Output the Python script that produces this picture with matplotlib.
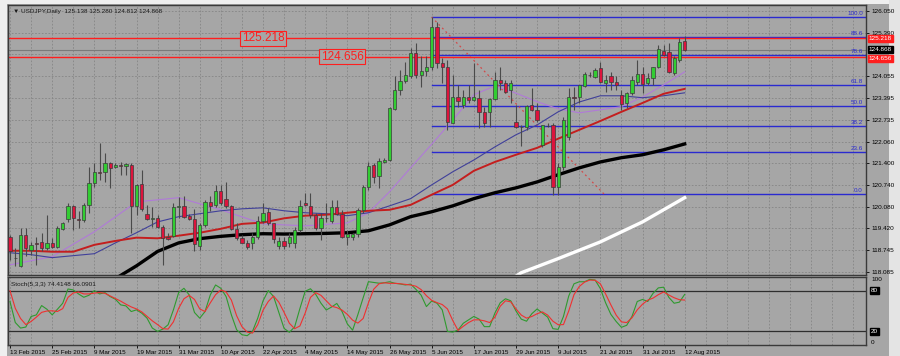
import numpy as np
import matplotlib.pyplot as plt
import matplotlib.transforms as mtransforms
from matplotlib.patches import Rectangle

plt.rcParams['font.family'] = ['Liberation Sans', 'DejaVu Sans']

# ---- daily USDJPY candles, 13 Feb 2015 .. 12 Aug 2015
opens = [119.16, 118.52, 118.25, 119.22, 118.76, 118.96, 119.01, 118.81, 118.96, 118.84,
         119.39, 119.69, 120.10, 119.70, 119.68, 120.13, 120.81, 121.12, 121.12, 121.42,
         121.28, 121.35, 121.32, 121.35, 120.10, 120.76, 119.85, 119.70, 119.73, 119.45,
         119.15, 119.19, 120.06, 120.10, 119.78, 119.70, 118.88, 119.52, 120.23, 120.13,
         120.54, 120.31, 120.10, 119.39, 119.12, 118.98, 118.98, 119.15, 119.65, 119.90,
         119.57, 118.88, 119.04, 118.98, 118.96, 119.37, 120.18, 120.10, 119.83, 119.42,
         119.73, 119.65, 120.06, 119.86, 119.15, 119.15, 119.25, 119.98, 120.67, 121.35,
         121.02, 121.45, 121.50, 123.05, 123.64, 123.92, 124.05, 124.76, 124.10, 124.23,
         124.33, 125.57, 124.47, 124.33, 122.62, 123.42, 123.18, 123.42, 123.33, 123.39,
         122.95, 122.95, 123.36, 123.94, 123.84, 123.64, 122.67, 122.52, 122.50, 123.18,
         123.03, 121.96, 122.55, 122.57, 120.69, 121.30, 122.20, 123.42, 123.42, 123.76,
         124.10, 124.03, 124.30, 123.86, 124.05, 123.89, 123.49, 123.23, 123.54, 123.89,
         124.13, 123.86, 124.00, 124.35, 124.84, 124.81, 124.15, 124.55, 125.138]
highs = [119.22, 118.82, 119.42, 119.42, 119.01, 119.16, 119.27, 119.83, 119.12, 119.49,
         119.62, 120.20, 120.13, 119.93, 120.18, 121.30, 121.40, 122.01, 121.71, 121.45,
         121.40, 121.45, 121.42, 121.40, 120.77, 121.20, 120.13, 120.08, 119.83, 119.52,
         119.27, 120.20, 120.37, 120.39, 119.86, 120.00, 119.57, 120.28, 120.39, 120.74,
         120.74, 120.82, 120.13, 119.57, 119.22, 119.07, 119.27, 119.78, 120.18, 120.03,
         119.59, 119.15, 119.15, 119.27, 119.47, 120.28, 120.49, 120.49, 119.89, 119.89,
         120.18, 120.28, 120.28, 119.98, 119.37, 119.28, 120.04, 120.74, 121.45, 121.40,
         121.56, 121.56, 123.13, 124.05, 124.25, 124.50, 124.91, 125.06, 124.66, 124.66,
         125.86, 125.71, 124.62, 124.55, 124.10, 123.79, 123.64, 123.79, 124.45, 123.64,
         123.12, 123.40, 124.20, 124.35, 123.94, 123.94, 123.18, 122.57, 123.18, 123.69,
         123.23, 122.57, 122.63, 122.62, 121.40, 122.80, 123.70, 123.72, 123.79, 124.19,
         124.20, 124.30, 124.50, 124.10, 124.19, 124.05, 123.64, 123.59, 124.05, 124.55,
         124.35, 124.15, 124.35, 125.01, 125.01, 125.06, 124.66, 125.22, 125.280]
lows = [118.46, 118.25, 118.22, 118.56, 118.61, 118.30, 118.71, 118.76, 118.81, 118.81,
        119.37, 119.62, 119.37, 119.42, 119.62, 119.88, 120.69, 120.89, 120.84, 120.64,
        121.25, 121.05, 121.05, 119.27, 119.83, 119.93, 119.68, 119.47, 119.42, 118.30,
        119.07, 119.15, 119.73, 119.73, 119.68, 118.71, 118.76, 119.47, 119.93, 120.08,
        120.13, 120.03, 119.37, 119.07, 118.96, 118.78, 118.78, 119.09, 119.59, 119.52,
        118.96, 118.78, 118.78, 118.84, 118.81, 119.31, 120.11, 119.73, 119.37, 119.07,
        119.62, 119.59, 119.83, 119.12, 118.91, 119.07, 119.16, 119.88, 120.59, 120.79,
        120.64, 121.41, 121.47, 123.03, 123.49, 123.84, 124.00, 124.00, 123.74, 124.05,
        124.25, 124.31, 123.84, 122.42, 122.62, 123.13, 123.08, 123.23, 123.30, 122.47,
        122.52, 122.52, 123.33, 123.64, 123.54, 123.23, 122.47, 121.93, 122.42, 122.98,
        122.67, 121.91, 122.51, 120.44, 120.44, 121.20, 122.12, 123.03, 123.23, 123.74,
        124.03, 124.00, 123.84, 123.58, 123.64, 123.64, 123.03, 123.09, 123.49, 123.79,
        123.54, 123.79, 123.79, 124.30, 124.66, 124.15, 124.10, 124.50, 124.812]
closes = [118.73, 118.50, 119.22, 118.81, 118.91, 118.94, 118.81, 118.96, 118.84, 119.42,
          119.57, 120.10, 119.73, 119.66, 120.13, 120.81, 121.12, 121.10, 121.42, 121.27,
          121.35, 121.33, 121.37, 120.10, 120.74, 120.00, 119.70, 119.74, 119.47, 119.12,
          119.10, 120.06, 120.10, 119.76, 119.70, 118.94, 119.52, 120.23, 120.10, 120.54,
          120.18, 120.10, 119.39, 119.12, 118.98, 118.84, 119.15, 119.65, 119.88, 119.57,
          119.09, 119.04, 118.88, 119.15, 119.37, 120.10, 120.13, 119.83, 119.42, 119.73,
          119.72, 120.06, 119.86, 119.15, 119.25, 119.25, 119.98, 120.67, 121.32, 120.99,
          121.48, 121.50, 123.08, 123.64, 123.92, 124.10, 124.76, 124.10, 124.23, 124.35,
          125.57, 124.47, 124.33, 122.67, 123.42, 123.31, 123.42, 123.33, 123.42, 122.95,
          122.64, 123.36, 123.94, 123.84, 123.59, 123.84, 122.52, 122.50, 123.15, 123.03,
          122.73, 122.57, 122.53, 120.69, 121.30, 122.73, 123.42, 123.40, 123.79, 124.13,
          124.08, 124.25, 123.89, 123.94, 123.89, 123.79, 123.21, 123.54, 123.94, 124.13,
          123.82, 124.00, 124.33, 124.88, 124.71, 124.20, 124.60, 125.11, 124.868]

# ---- moving averages, values read at selected bars
violet_idx = [0, 8, 16, 24, 32, 40, 48, 56, 64, 68, 72, 76, 80, 84, 88, 92, 96, 100,
              104, 108, 112, 116, 120, 124, 128]
violet_ma = [118.30, 118.55, 119.31, 120.22, 120.35, 119.98, 119.55, 119.49, 119.58, 119.89,
             120.53, 121.26, 121.98, 122.72, 123.49, 123.76, 123.54, 123.28, 123.06, 122.94,
             123.03, 123.13, 123.42, 123.79, 124.19]
ma_idx = [0, 4, 8, 12, 16, 20, 24, 28, 32, 36, 40, 44, 48, 52, 56, 60, 64, 68, 72, 76,
          80, 84, 88, 92, 96, 100, 104, 108, 112, 116, 120, 124, 128]
blue_ma = [118.67, 118.61, 118.52, 118.58, 118.64, 118.97, 119.28, 119.61, 119.77, 119.86,
           119.95, 120.01, 120.04, 119.95, 119.89, 119.86, 119.80, 119.89, 120.10, 120.32,
           120.74, 121.14, 121.50, 121.90, 122.27, 122.57, 122.97, 123.27, 123.46, 123.46,
           123.40, 123.46, 123.55]
red_ma = [118.73, 118.73, 118.70, 118.70, 118.91, 119.03, 119.13, 119.11, 119.19, 119.28,
          119.40, 119.55, 119.59, 119.72, 119.80, 119.83, 119.89, 119.95, 119.98, 120.13,
          120.44, 120.74, 121.17, 121.44, 121.66, 121.87, 122.15, 122.42, 122.69, 122.97,
          123.24, 123.52, 123.67]
black_idx = [16, 20, 24, 28, 32, 36, 40, 44, 48, 52, 56, 60, 64, 68, 72, 76, 80, 84, 88,
             92, 96, 100, 104, 108, 112, 116, 120, 124, 128]
black_ma = [117.60, 117.88, 118.27, 118.71, 118.97, 119.10, 119.17, 119.22, 119.25, 119.24,
            119.25, 119.26, 119.28, 119.34, 119.52, 119.77, 119.92, 120.10, 120.32, 120.50,
            120.65, 120.83, 121.05, 121.26, 121.44, 121.57, 121.66, 121.81, 121.99]
white_idx = [95, 97, 104, 112, 120, 128]
white_ma = [117.85, 118.06, 118.49, 119.00, 119.61, 120.35]

# ---- Stochastic(5,3,3)
stoch_main = [63.9, 33.1, 24.9, 26.4, 41.9, 44.3, 58.0, 52.6, 44.3, 52.6,
              61.4, 82.4, 81.0, 75.1, 70.2, 73.2, 80.0, 75.1, 77.1, 71.2,
              67.3, 59.0, 57.5, 49.2, 51.7, 46.8, 39.4, 24.9, 20.0, 23.4,
              29.8, 51.7, 77.1, 83.4, 73.7, 47.8, 39.4, 49.2, 73.7, 88.3,
              83.4, 71.2, 44.3, 22.4, 15.1, 13.7, 20.0, 39.4, 64.8, 80.0,
              71.4, 47.8, 24.4, 18.7, 26.6, 53.6, 79.0, 82.7, 74.5, 61.4,
              51.5, 55.8, 61.1, 49.2, 31.0, 21.8, 44.8, 69.4, 93.1, 92.0,
              90.9, 91.5, 93.0, 90.8, 89.8, 88.3, 89.5, 82.0, 73.2, 56.5,
              64.7, 61.5, 51.7, 20.0, 19.0, 22.0, 32.0, 37.0, 42.0, 38.0,
              27.0, 27.0, 47.0, 62.0, 68.0, 65.0, 50.0, 38.0, 35.0, 46.0,
              53.0, 47.0, 41.0, 24.0, 23.0, 42.0, 72.0, 90.0, 93.0, 93.0,
              96.5, 95.6, 83.0, 62.0, 45.0, 34.6, 26.0, 29.0, 42.0, 64.0,
              67.0, 64.0, 76.0, 84.0, 85.0, 70.0, 61.4, 63.0, 74.41]
stoch_signal = [80.0, 54.0, 39.0, 30.0, 34.6, 41.0, 48.0, 50.0, 50.3, 49.3,
                53.5, 70.0, 76.5, 78.0, 75.1, 75.1, 76.3, 77.1, 76.0, 72.2,
                68.5, 64.5, 60.0, 56.0, 53.0, 48.7, 42.0, 35.5, 30.0, 24.0,
                23.4, 34.0, 54.0, 68.0, 73.0, 67.0, 53.0, 49.2, 62.0, 74.0,
                81.0, 78.0, 66.0, 43.0, 27.0, 19.0, 17.5, 30.0, 51.0, 64.0,
                72.0, 63.0, 48.0, 32.0, 24.0, 28.0, 47.0, 70.0, 77.0, 73.0,
                65.0, 57.0, 55.0, 51.3, 45.0, 36.5, 32.2, 39.0, 62.0, 82.0,
                90.0, 91.5, 90.7, 90.7, 90.1, 89.2, 88.2, 86.5, 81.5, 72.5,
                65.7, 62.3, 59.5, 53.0, 36.0, 21.5, 27.5, 33.0, 37.0, 37.0,
                35.5, 33.0, 41.0, 57.0, 65.0, 63.5, 53.0, 44.0, 39.5, 41.9,
                46.0, 48.7, 44.0, 35.0, 29.8, 30.0, 50.0, 74.0, 86.0, 92.5,
                95.5, 95.2, 90.0, 75.0, 59.0, 44.0, 34.0, 33.0, 40.0, 51.7,
                60.0, 66.0, 69.0, 74.0, 78.0, 73.5, 69.5, 66.6, 66.09]

date_labels = ['13 Feb 2015', '25 Feb 2015', '9 Mar 2015', '19 Mar 2015', '31 Mar 2015',
               '10 Apr 2015', '22 Apr 2015', '4 May 2015', '14 May 2015', '26 May 2015',
               '5 Jun 2015', '17 Jun 2015', '29 Jun 2015', '9 Jul 2015', '21 Jul 2015',
               '31 Jul 2015', '12 Aug 2015']
price_ticks = [118.085, 118.745, 119.420, 120.080, 120.740, 121.400, 122.060, 122.735,
               123.395, 124.055, 124.720, 125.390, 126.050]

# fibonacci retracement object and horizontal lines
fib_levels = [0.0, 23.6, 38.2, 50.0, 61.8, 78.6, 88.6, 100.0]
fib_low, fib_high = 120.46, 125.86
fib_start, fib_end = 80, 112.7
hlines = [125.218, 124.656]
bid = 124.868

BG = '#a6a6a6'
GRID = '#858585'
GREEN = '#32cd32'
RED = '#dc143c'
EDGE = '#3c3c3c'
FIBC = '#2a2ad0'

fig = plt.figure(figsize=(9, 3.56), dpi=100, facecolor=BG)
ax = fig.add_axes([8/900, 1-275/356, 858/900, 270/356], facecolor=BG)
ax2 = fig.add_axes([8/900, 1-345/356, 858/900, 68/356], facecolor=BG)

xmin, xmax = -0.38, 162.4
for a in (ax, ax2):
    a.set_xlim(xmin, xmax)
    for s in a.spines.values():
        s.set_color('#3a3a3a')
        s.set_linewidth(1.0)
    for g in range(0, 164, 4):
        a.axvline(g, color=GRID, lw=0.6, ls=(0, (2, 2)), zorder=0.5)
ax.set_ylim(117.99, 126.23)
ax2.set_ylim(0, 100)

for p in price_ticks:
    ax.axhline(p, color=GRID, lw=0.6, ls=(0, (2, 2)), zorder=0.5)

# fib
for lv in fib_levels:
    pr = fib_low + (fib_high - fib_low) * lv / 100
    ax.plot([fib_start, xmax], [pr, pr], color=FIBC, lw=1.0, zorder=1.5)
    ax.text(xmax - 0.6, pr + 0.03, f'{lv:.1f}', color=FIBC, fontsize=4.5,
            ha='right', va='bottom', zorder=6)
ax.plot([fib_start, fib_end], [fib_high, fib_low], color='#d24a4a', lw=0.9,
        ls=(0, (1.5, 2.5)), zorder=1.6)

# horizontal lines
ax.axhline(bid, color='#7a7a7a', lw=0.8, zorder=1.7)
for h in hlines:
    ax.axhline(h, color='#ff1e1e', lw=1.0, zorder=1.8)
ax.text(48, hlines[0], f'{hlines[0]:.3f}', color='#ff1e1e', fontsize=8.5, ha='center',
        va='center', zorder=7,
        bbox=dict(boxstyle='square,pad=0.12', fc=BG, ec='#ff1e1e', lw=0.8))
ax.text(63, hlines[1], f'{hlines[1]:.3f}', color='#ff1e1e', fontsize=8.5, ha='center',
        va='center', zorder=7,
        bbox=dict(boxstyle='square,pad=0.12', fc=BG, ec='#ff1e1e', lw=0.8))

# moving averages
ax.plot(violet_idx, violet_ma, color='#b07ad8', lw=0.8, zorder=2)
ax.plot(ma_idx, blue_ma, color='#40409a', lw=0.8, zorder=2)
ax.plot(ma_idx, red_ma, color='#c41e1e', lw=1.4, zorder=2)
ax.plot(black_idx, black_ma, color='black', lw=2.4, zorder=2)
ax.plot(white_idx, white_ma, color='white', lw=2.4, zorder=2)

# candles
o = np.array(opens); h = np.array(highs); l = np.array(lows); c = np.array(closes)
idx = np.arange(len(c))
ax.vlines(idx, l, h, color='#4a4a4a', lw=0.8, zorder=3)
lo = np.minimum(o, c)
hh = np.maximum(np.abs(c - o), 0.02)
up = c >= o
ax.bar(idx[up], hh[up], 0.62, bottom=lo[up], color=GREEN, edgecolor=EDGE, lw=0.5, zorder=4)
ax.bar(idx[~up], hh[~up], 0.62, bottom=lo[~up], color=RED, edgecolor=EDGE, lw=0.5, zorder=4)

# price axis
ax.yaxis.tick_right()
shown = [p for p in price_ticks if p != 124.720]
ax.set_yticks(shown)
ax.set_yticklabels([f'{p:.3f}' for p in shown])
ax.tick_params(axis='y', length=2.5, width=0.6, labelsize=4.6, pad=1.5, colors='black')
ax.set_xticks([])

blend = mtransforms.blended_transform_factory(ax.transAxes, ax.transData)
tags = [(hlines[0], f'{hlines[0]:.3f}', '#ff1e1e'), (bid, f'{bid:.3f}', 'black'),
        (hlines[1] - 0.05, f'{hlines[1]:.3f}', '#ff1e1e')]
for yv, txt, col in tags:
    ax.text(1.003, yv, txt, transform=blend, color='white', fontsize=4.6, ha='left',
            va='center', clip_on=False, zorder=8,
            bbox=dict(boxstyle='square,pad=0.15', fc=col, ec=col))

ax.text(0.006, 0.985, '\u25bc USDJPY,Daily  125.138 125.280 124.812 124.868',
        transform=ax.transAxes, fontsize=4.6, va='top', ha='left', color='#1a1a1a', zorder=9)

# stochastic panel
ax2.plot(idx, stoch_main, color='#2f9a2f', lw=0.8, zorder=3)
ax2.plot(idx, stoch_signal, color='#f03030', lw=0.8, zorder=3)
for lvl in (80, 20):
    ax2.axhline(lvl, color='#2e2e2e', lw=0.9, zorder=2)
ax2.text(0.004, 0.93, 'Stoch(5,3,3) 74.4148 66.0901', transform=ax2.transAxes,
         fontsize=4.6, va='top', ha='left', color='#1a1a1a')
ax2.set_yticks([])
blend2 = mtransforms.blended_transform_factory(ax2.transAxes, ax2.transData)
ax2.text(1.006, 100, '100', transform=blend2, fontsize=4.6, va='top', ha='left', clip_on=False)
ax2.text(1.006, 0, '0', transform=blend2, fontsize=4.6, va='bottom', ha='left', clip_on=False)
for lvl in (80, 20):
    ax2.text(1.006, lvl, str(lvl), transform=blend2, fontsize=4.6, va='center', ha='left',
             color='white', clip_on=False,
             bbox=dict(boxstyle='square,pad=0.15', fc='black', ec='black'))

ax2.set_xticks(range(0, 8 * len(date_labels), 8))
ax2.set_xticklabels(date_labels, ha='left')
ax2.tick_params(axis='x', length=2, width=0.6, labelsize=4.5, pad=1.5, colors='black')

# window frame bits
fig.patches.append(Rectangle((0, 0), 7/900, 1, transform=fig.transFigure,
                             fc='#efefef', ec='none', zorder=-1))
fig.patches.append(Rectangle((0, 1-4/356), 1, 4/356, transform=fig.transFigure,
                             fc='#efefef', ec='none', zorder=-1))
fig.patches.append(Rectangle((889/900, 0), 11/900, 1, transform=fig.transFigure,
                             fc='#e4e4e4', ec='none', zorder=-1))

fig.savefig('out.png', dpi=100, facecolor=BG)
